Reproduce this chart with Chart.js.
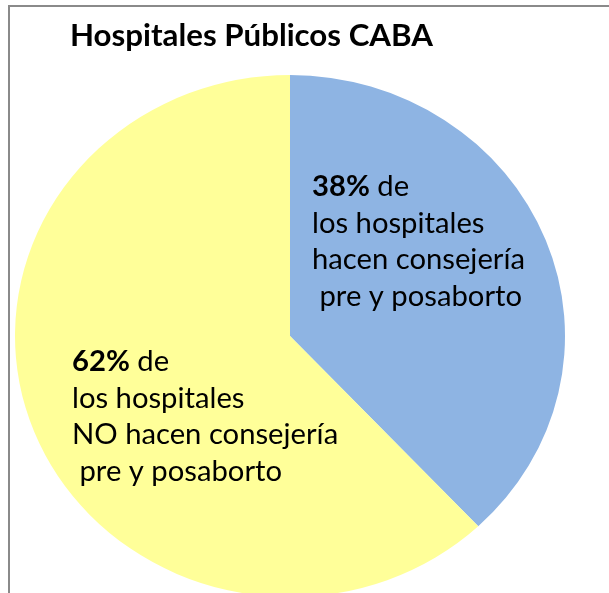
<!DOCTYPE html>
<html>
<head>
<meta charset="utf-8">
<script src="https://cdn.jsdelivr.net/npm/chart.js@4"></script>
<style>
  html, body { margin: 0; padding: 0; background: #fff; overflow: hidden; }
  #wrap { width: 609px; height: 640px; position: relative; }
</style>
</head>
<body>
<div id="wrap"><canvas id="pieChart"></canvas></div>
<script>
// Data
const chartTitle = 'Hospitales Públicos CABA';
const categories = ['Hacen consejería pre y posaborto', 'NO hacen consejería pre y posaborto'];
const percentages = [38, 62];
const sliceColors = ['#8EB4E3', '#FFFF99'];
// label text per slice: first line = [bold part, normal part]
const sliceLabels = [
    [['38%', ' de'], 'los hospitales', 'hacen consejería', ' pre y posaborto'],
    [['62%', ' de'], 'los hospitales', 'NO hacen consejería', ' pre y posaborto']
];

const FONT = 'Lato, "Open Sans", sans-serif';

// squash the pie vertically a bit (the original is slightly elliptical)
const squashPlugin = {
    id: 'squash',
    beforeDatasetsDraw(chart) {
        const arc = chart.getDatasetMeta(0).data[0];
        const ctx = chart.ctx;
        ctx.save();
        ctx.translate(arc.x, arc.y);
        ctx.scale(1, 261 / 275);
        ctx.translate(-arc.x, -arc.y);
    },
    afterDatasetsDraw(chart) {
        chart.ctx.restore();
    }
};

// fit a font size so that text gets a target width
function fitSize(ctx, weight, text, targetWidth) {
    ctx.font = weight + ' 100px ' + FONT;
    return 100 * targetWidth / ctx.measureText(text).width;
}

const textPlugin = {
    id: 'texts',
    afterDraw(chart) {
        const ctx = chart.ctx;
        ctx.save();

        // frame lines (top and left)
        ctx.strokeStyle = '#8a8a8a';
        ctx.lineWidth = 2;
        ctx.beginPath();
        ctx.moveTo(609, 6);
        ctx.lineTo(9, 6);
        ctx.lineTo(9, 593);
        ctx.stroke();

        ctx.fillStyle = '#000';
        ctx.textBaseline = 'alphabetic';
        ctx.textAlign = 'left';

        // title
        const ts = fitSize(ctx, 'bold', chartTitle, 363);
        ctx.font = 'bold ' + ts + 'px ' + FONT;
        ctx.fillText(chartTitle, 70, 46);

        // slice labels
        const ls = fitSize(ctx, 'normal', 'hacen consejería', 213);
        const spots = [
            { x: 312, y: 196 },
            { x: 72, y: 371 }
        ];
        const lineGap = 36.5;
        sliceLabels.forEach(function(lines, i) {
            const p = spots[i];
            lines.forEach(function(line, j) {
                const y = p.y + j * lineGap;
                if (Array.isArray(line)) {
                    ctx.font = 'bold ' + ls + 'px ' + FONT;
                    ctx.fillText(line[0], p.x, y);
                    const w = ctx.measureText(line[0]).width;
                    ctx.font = 'normal ' + ls + 'px ' + FONT;
                    ctx.fillText(line[1], p.x + w, y);
                } else {
                    ctx.font = 'normal ' + ls + 'px ' + FONT;
                    ctx.fillText(line, p.x, y);
                }
            });
        });
        ctx.restore();
    }
};

document.addEventListener('DOMContentLoaded', function() {
    const pieCtx = document.getElementById('pieChart').getContext('2d');
    new Chart(pieCtx, {
        type: 'pie',
        data: {
            labels: categories,
            datasets: [{
                data: percentages,
                backgroundColor: sliceColors,
                borderWidth: 0,
                hoverOffset: 0
            }]
        },
        options: {
            responsive: true,
            maintainAspectRatio: false,
            animation: false,
            events: [],
            layout: {
                padding: { left: 15, right: 44, top: 61, bottom: 29 }
            },
            plugins: {
                legend: { display: false },
                tooltip: { enabled: false },
                title: { display: false }
            }
        },
        plugins: [squashPlugin, textPlugin]
    });
});
</script>
</body>
</html>
